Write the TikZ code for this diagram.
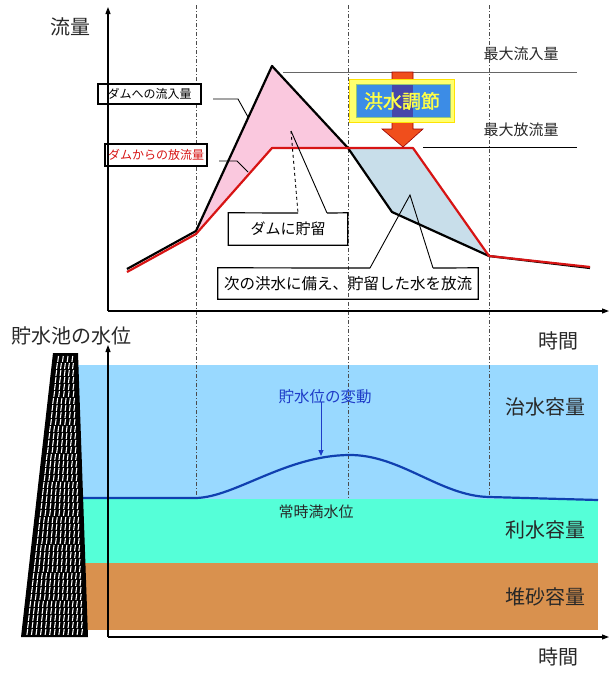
\documentclass[tikz,border=0pt]{standalone}
\usepackage{fontspec}
\setmainfont{Noto Sans CJK JP}
\newfontfamily\boldjp{Noto Sans CJK JP}[FakeBold=1.5]
\usetikzlibrary{arrows.meta,calc}
\definecolor{pinkfill}{RGB}{250,200,222}
\definecolor{bluefill}{RGB}{200,222,234}
\definecolor{outred}{RGB}{215,20,20}
\definecolor{floodblue}{RGB}{153,217,255}
\definecolor{useaqua}{RGB}{85,255,216}
\definecolor{sedbrown}{RGB}{217,145,78}
\definecolor{levelblue}{RGB}{16,64,176}
\definecolor{arroworange}{RGB}{240,78,28}
\definecolor{boxblue}{RGB}{60,140,230}
\definecolor{shaftblue}{RGB}{70,70,170}
\definecolor{boxyellow}{RGB}{255,255,110}
\definecolor{textyellow}{RGB}{255,255,70}
\definecolor{labelblue}{RGB}{30,60,200}
\definecolor{txtgray}{RGB}{40,40,40}
\tikzset{
  axisline/.style={line width=1.1pt, -{Triangle[length=7pt,width=5pt]}},
  guide/.style={line width=0.6pt, black!70, dash pattern=on 4pt off 2pt on 1pt off 2pt},
  bigtxt/.style={inner sep=0pt, text=txtgray, font=\fontsize{20}{24}\selectfont},
  midtxt/.style={inner sep=0pt, text=txtgray, font=\fontsize{15}{18}\selectfont},
  lblbox/.style={draw=black, line width=1.2pt, inner sep=0pt, font=\fontsize{12}{14}\selectfont},
  leader/.style={line width=0.9pt, black},
  curve/.style={line width=2.2pt, line join=round},
  damstripe/.style={white, line width=1.1pt},
}
\begin{document}
\begin{tikzpicture}[x=1pt,y=-1pt]
\useasboundingbox (0,0) rectangle (615,680);

% ---------- lower plot fills ----------
\fill[floodblue] (78,365) rectangle (598,499);
\fill[useaqua] (78,499) rectangle (598,563);
\fill[sedbrown] (78,563) rectangle (598,630);

% ---------- top plot fills ----------
\fill[pinkfill] (196,231) -- (272,66) -- (348,148) -- (272,148) -- (196,234) -- cycle;
\fill[bluefill] (348,148) -- (413,148) -- (489,256) -- (392,212) -- cycle;

% ---------- guide lines ----------
\foreach \gx in {196,348,489} \draw[guide] (\gx,5) -- (\gx,498);

% ---------- max lines ----------
\draw[black!60, line width=0.8pt] (283,72) -- (577,72);
\draw[black, line width=0.8pt] (423,147) -- (577,147);
\node[midtxt] (maxin) at (521,54) {最大流入量};
\node[midtxt] (maxout) at (521,130) {最大放流量};

% ---------- curves ----------
\draw[curve, black] (127,269) -- (196,231) -- (272,66) -- (348,148) -- (392,212) -- (489,256) -- (590,268);
\draw[curve, outred] (127,272) -- (196,234) -- (272,148) -- (413,148) -- (489,256) -- (590,267);

% ---------- flood control arrow and box ----------
\draw[fill=arroworange, draw=red!60!black, line width=0.6pt]
  (392,72) -- (413,72) -- (413,129) -- (423,129) -- (403,147) -- (382,129) -- (392,129) -- cycle;
\draw[fill=boxyellow, draw=yellow!85!orange, line width=0.8pt] (349,79) rectangle (454,122);
\draw[fill=boxblue, draw={rgb,255:red,150;green,200;blue,120}, line width=1pt] (356,84) rectangle (450,117);
\fill[shaftblue] (392,84.5) rectangle (413,116.5);
\node[inner sep=0pt, text=textyellow, font=\boldjp\fontsize{19}{22}\selectfont] (fc) at (402,101) {洪水調節};

% ---------- labels with leaders ----------
\node[lblbox, minimum width=103pt, minimum height=20pt, fill=white] (inflow) at (149.5,94) {ダムへの流入量};
\coordinate (i1) at (213,99); \coordinate (i2) at (238,99); \coordinate (i3) at (248,117);
\draw[leader] (i1) -- (i2) -- (i3);

\node[lblbox, minimum width=102pt, minimum height=22pt, fill=white, text=outred] (outflow) at (156,155) {ダムからの放流量};
\coordinate (o1) at (219,161); \coordinate (o2) at (237,161); \coordinate (o3) at (248,172);
\draw[leader] (o1) -- (o2) -- (o3);

\node[inner sep=0pt, minimum width=119pt, minimum height=32pt, font=\fontsize{15}{18}\selectfont] (store) at (288,229) {ダムに貯留};
\coordinate (sa) at (291,131); \coordinate (sl) at (298,213); \coordinate (sr) at (327,213);
\draw[line width=1.2pt] (sl) -- (store.north west) -- (store.south west) -- (store.south east) -- (store.north east) -- (sr);
\draw[leader] (sr) -- (sa);
\draw[leader, dashed] (sa) -- (sl);

\node[inner sep=0pt, minimum width=260pt, minimum height=31pt, font=\fontsize{15.5}{18}\selectfont] (release) at (348,283.5) {次の洪水に備え、貯留した水を放流};
\coordinate (ra) at (410,195); \coordinate (rl) at (370,268); \coordinate (rr) at (433,268);
\draw[line width=1.2pt] (rl) -- (release.north west) -- (release.south west) -- (release.south east) -- (release.north east) -- (rr);
\draw[leader] (rl) -- (ra) -- (rr);

% ---------- water level ----------
\draw[line width=2.2pt, levelblue] (80,498) -- (196,498)
  .. controls (235,497) and (285,456) .. (348,455)
  .. controls (400,454) and (440,496) .. (489,497) -- (598,500);
\node[inner sep=0pt, text=labelblue, font=\fontsize{15.5}{18}\selectfont] (varlabel) at (325,397) {貯水位の変動};
\coordinate (varpt) at (321,456);
\draw[line width=1pt, labelblue, -{Triangle[length=6pt,width=5pt]}] (varlabel.south -| varpt) ++(0,-2) -- (varpt);
\node[midtxt] (normal) at (316,512) {常時満水位};

\node[bigtxt] (floodcap) at (545,407) {治水容量};
\node[bigtxt] (usecap) at (545,530) {利水容量};
\node[bigtxt] (sedcap) at (545,597) {堆砂容量};

% ---------- dam ----------
\coordinate (LT) at (53,353); \coordinate (RT) at (78,353);
\coordinate (LB) at (21,637); \coordinate (RB) at (88,637);
\fill[black] (LT) -- (RT) -- (RB) -- (LB) -- cycle;
\foreach \r in {0,...,39} {
  \pgfmathsetmacro\yy{356+\r*7}
  \pgfmathsetmacro\xl{53-32*(\yy-353)/284+3.5}
  \pgfmathsetmacro\xr{78+10*(\yy-353)/284-3}
  \pgfmathtruncatemacro\nn{(\xr-\xl)/4.4+0.5}
  \pgfmathsetmacro\sp{(\xr-\xl)/\nn}
  \foreach \k in {1,...,\nn} {
    \pgfmathsetmacro\xx{\xl+(\k-0.5)*\sp}
    \draw[damstripe] (\xx,\yy) -- ({\xx-0.8},{\yy+5.9});
  }
}

% ---------- axes ----------
\coordinate (o1top) at (108,311);
\coordinate (ytop) at (108,7);
\coordinate (xtop) at (609,311);
\draw[axisline] (o1top) -- (ytop);
\draw[axisline] (o1top) -- (xtop);
\coordinate (o2) at (108,637);
\coordinate (ybot) at (108,345);
\coordinate (xbot) at (609,637);
\draw[axisline] (o2) -- (ybot);
\draw[axisline] (o2) -- (xbot);

\node[bigtxt] (flow) at (70,27) {流量};
\node[bigtxt] (timetop) at (558,341) {時間};
\node[bigtxt] (level) at (72,336) {貯水池の水位};
\node[bigtxt] (timebot) at (558,657) {時間};
\end{tikzpicture}
\end{document}
